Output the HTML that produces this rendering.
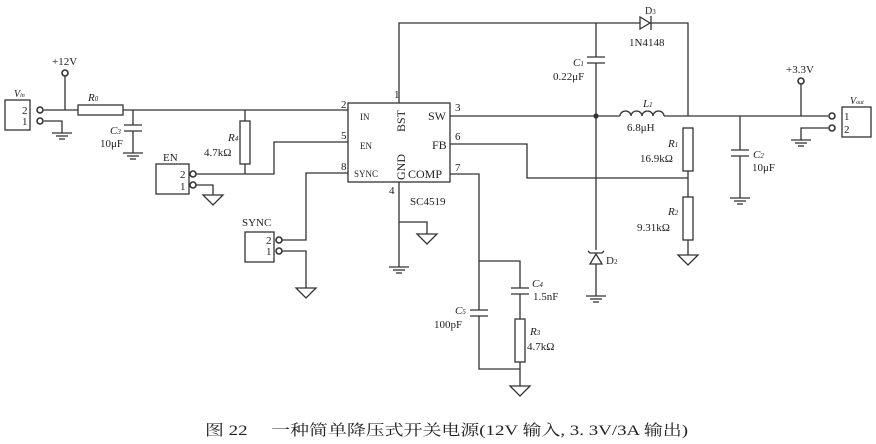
<!DOCTYPE html>
<html><head><meta charset="utf-8"><style>
html,body{margin:0;padding:0;background:#fff;}
svg{display:block;}
text{font-family:"Liberation Serif","Noto Serif CJK SC",serif;fill:#222;}
</style></head><body>
<svg width="876" height="444" viewBox="0 0 876 444" xmlns="http://www.w3.org/2000/svg">
<defs>
<g id="gnd" stroke="#333" stroke-width="1.3" fill="none"><line x1="-10" y1="0" x2="10" y2="0"/><line x1="-6" y1="3" x2="6" y2="3"/><line x1="-3" y1="6" x2="3" y2="6"/></g>
<g id="tri" stroke="#333" stroke-width="1.3" fill="none"><polygon points="-10,0 10,0 0,10"/></g>
</defs>
<g stroke="#333" stroke-width="1.3" fill="none">
<rect x="348" y="103" width="102" height="79"/>
<polyline points="399,103 399,23 688,23 688,116"/>
<polygon points="640,17 640,29 650,23" fill="#fff"/><line x1="651" y1="16" x2="651" y2="30"/>
<line x1="450" y1="116" x2="620" y2="116"/>
<path d="M620,116 a5.5,5 0 0 1 11,0 a5.5,5 0 0 1 11,0 a5.5,5 0 0 1 11,0 a5.5,5 0 0 1 11,0"/>
<line x1="664" y1="116" x2="828" y2="116"/>
<line x1="596" y1="23" x2="596" y2="57"/><line x1="587" y1="57" x2="605" y2="57"/><line x1="587" y1="63" x2="605" y2="63"/><line x1="596" y1="63" x2="596" y2="250"/>
<polygon points="590,264 602,264 596,254" fill="#fff"/><polyline points="588,251 590,253 602,253 604,251"/>
<line x1="596" y1="264" x2="596" y2="296"/>
<rect x="683" y="128" width="10" height="43"/><line x1="688" y1="171" x2="688" y2="197"/>
<rect x="683" y="197" width="10" height="43"/><line x1="688" y1="240" x2="688" y2="255"/>
<polyline points="450,144 527,144 527,178 688,178"/>
<line x1="740" y1="116" x2="740" y2="150"/><line x1="731" y1="150" x2="749" y2="150"/><line x1="731" y1="156" x2="749" y2="156"/><line x1="740" y1="156" x2="740" y2="198"/>
<line x1="801" y1="84" x2="801" y2="116"/>
<polyline points="828,128 801,128 801,140"/>
<rect x="842" y="107" width="29" height="30"/>
<polyline points="450,174 479,174 479,261 520,261 520,288"/>
<line x1="511" y1="288" x2="529" y2="288"/><line x1="511" y1="294" x2="529" y2="294"/>
<line x1="520" y1="294" x2="520" y2="319"/><rect x="515" y="319" width="10" height="43"/>
<polyline points="520,362 520,369 479,369 479,316"/>
<line x1="470" y1="310" x2="488" y2="310"/><line x1="470" y1="316" x2="488" y2="316"/><line x1="479" y1="261" x2="479" y2="310"/>
<line x1="520" y1="369" x2="520" y2="386"/>
<line x1="399" y1="182" x2="399" y2="267"/><polyline points="399,222 427,222 427,234"/>
<rect x="5" y="100" width="25" height="30"/>
<line x1="44" y1="110" x2="78" y2="110"/><line x1="65" y1="76" x2="65" y2="110"/>
<rect x="78" y="105" width="45" height="10"/>
<line x1="123" y1="110" x2="348" y2="110"/>
<polyline points="44,121 62,121 62,133"/>
<line x1="133" y1="110" x2="133" y2="125"/><line x1="124" y1="125" x2="142" y2="125"/><line x1="124" y1="131" x2="142" y2="131"/><line x1="133" y1="131" x2="133" y2="153"/>
<line x1="245" y1="110" x2="245" y2="121"/><rect x="240" y="121" width="10" height="43"/><line x1="245" y1="164" x2="245" y2="174"/>
<rect x="156" y="164" width="33" height="30"/>
<polyline points="196,174 274,174 274,142 348,142"/>
<polyline points="196,185 213,185 213,195"/>
<polyline points="348,173 306,173 306,240 282,240"/>
<rect x="245" y="232" width="29" height="30"/>
<polyline points="282,251 306,251 306,288"/>
</g>
<g fill="#333"><circle cx="596" cy="116" r="2.6"/></g>
<g stroke="#333" stroke-width="1.6" fill="#fff">
<circle cx="65" cy="73" r="3"/><circle cx="801" cy="81" r="3"/>
<circle cx="40" cy="110" r="3"/><circle cx="40" cy="121" r="3"/>
<circle cx="193" cy="174" r="3"/><circle cx="193" cy="185" r="3"/>
<circle cx="279" cy="240" r="3"/><circle cx="279" cy="251" r="3"/>
<circle cx="832" cy="116" r="3"/><circle cx="832" cy="128" r="3"/>
</g>
<use href="#gnd" x="62" y="133"/><use href="#gnd" x="133" y="153"/><use href="#gnd" x="399" y="267"/>
<use href="#gnd" x="596" y="296"/><use href="#gnd" x="740" y="198"/><use href="#gnd" x="801" y="140"/>
<use href="#tri" x="213" y="195"/><use href="#tri" x="306" y="288"/><use href="#tri" x="427" y="234"/>
<use href="#tri" x="688" y="255"/><use href="#tri" x="520" y="386"/>
<g font-size="11">
<text x="360" y="120" font-size="9">IN</text><text x="360" y="149" font-size="9">EN</text><text x="354" y="177" font-size="9">SYNC</text>
<text x="428" y="120" font-size="12">SW</text><text x="432" y="149" font-size="12">FB</text><text x="408" y="178" font-size="12">COMP</text>
<text transform="translate(405,132) rotate(-90)" font-size="12">BST</text>
<text transform="translate(405,180) rotate(-90)" font-size="12">GND</text>
<text x="394" y="98">1</text><text x="341" y="108">2</text><text x="341" y="139">5</text><text x="341" y="170">8</text>
<text x="455" y="111">3</text><text x="455" y="140">6</text><text x="455" y="171">7</text><text x="389" y="194">4</text>
<text x="410" y="205">SC4519</text>
<text x="645" y="14" font-size="10">D<tspan font-size="7">3</tspan></text>
<text x="629" y="46">1N4148</text>
<text x="573" y="66" font-style="italic">C<tspan font-size="7">1</tspan></text>
<text x="553" y="80">0.22μF</text>
<text x="643" y="107" font-style="italic">L<tspan font-size="7">1</tspan></text>
<text x="627" y="131">6.8μH</text>
<text x="668" y="147" font-style="italic">R<tspan font-size="7">1</tspan></text>
<text x="640" y="162">16.9kΩ</text>
<text x="668" y="215" font-style="italic">R<tspan font-size="7">2</tspan></text>
<text x="637" y="231">9.31kΩ</text>
<text x="606" y="264">D<tspan font-size="7">2</tspan></text>
<text x="753" y="158" font-style="italic">C<tspan font-size="7">2</tspan></text>
<text x="752" y="171">10μF</text>
<text x="786" y="73">+3.3V</text>
<text x="850" y="104" font-style="italic" font-size="10">V<tspan font-size="6">out</tspan></text>
<text x="844" y="120">1</text><text x="844" y="133">2</text>
<text x="532" y="287" font-style="italic">C<tspan font-size="7">4</tspan></text>
<text x="533" y="300">1.5nF</text>
<text x="455" y="314" font-style="italic">C<tspan font-size="7">5</tspan></text>
<text x="434" y="328">100pF</text>
<text x="530" y="335" font-style="italic">R<tspan font-size="7">3</tspan></text>
<text x="527" y="350">4.7kΩ</text>
<text x="52" y="65">+12V</text>
<text x="14" y="97" font-style="italic" font-size="10">V<tspan font-size="6">in</tspan></text>
<text x="22" y="114">2</text><text x="22" y="125">1</text>
<text x="88" y="101" font-style="italic">R<tspan font-size="7">0</tspan></text>
<text x="110" y="134" font-style="italic">C<tspan font-size="7">3</tspan></text>
<text x="100" y="147">10μF</text>
<text x="228" y="141" font-style="italic">R<tspan font-size="7">4</tspan></text>
<text x="204" y="156">4.7kΩ</text>
<text x="163" y="161">EN</text>
<text x="180" y="178">2</text><text x="180" y="190">1</text>
<text x="242" y="226">SYNC</text>
<text x="266" y="244">2</text><text x="266" y="255">1</text>
</g>
<text x="205" y="435" font-size="15" fill="#333" textLength="483" lengthAdjust="spacingAndGlyphs">图 22　 一种简单降压式开关电源(12V 输入, 3. 3V/3A 输出)</text>
</svg>
</body></html>
